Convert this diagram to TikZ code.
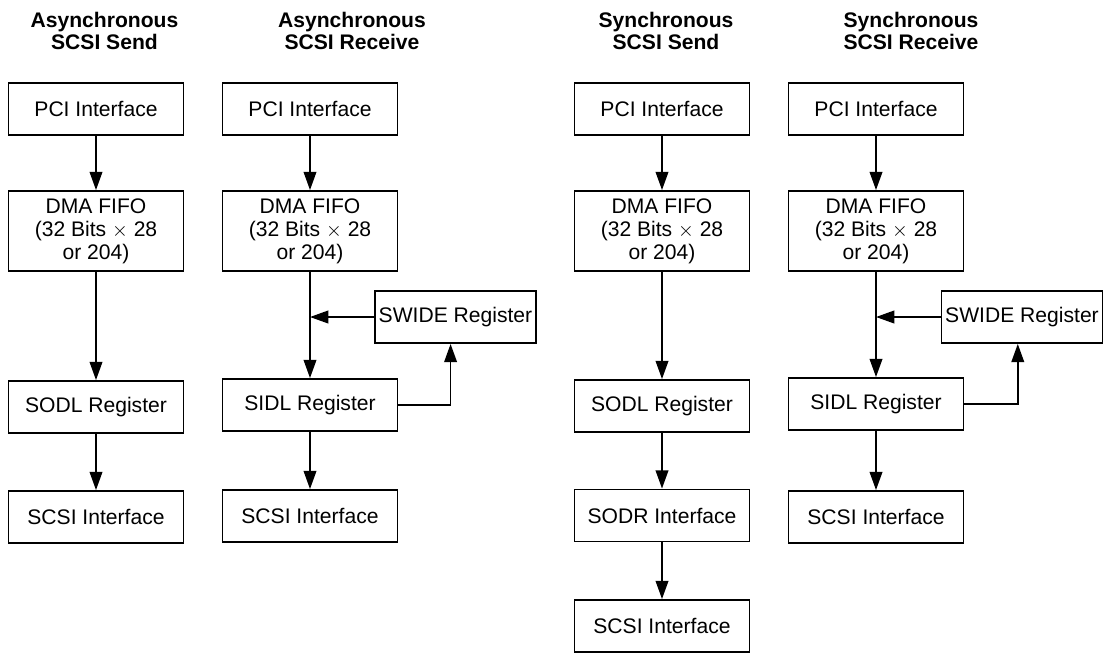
\documentclass[tikz,border=0pt]{standalone}
\usepackage{fontspec}
\setmainfont{Liberation Sans}
\usetikzlibrary{arrows.meta}

\begin{document}
\begin{tikzpicture}[x=0.025cm,y=-0.025cm,
    blk/.style={draw,line width=1.3pt,minimum width=4.375cm,minimum height=1.3cm,
        inner sep=1pt,align=center,font=\fontsize{15}{16.4}\selectfont},
    fifo/.style={blk,minimum height=2cm},
    wide/.style={blk,minimum width=4.025cm},
    ttl/.style={align=center,font=\fontsize{15}{16.2}\selectfont\bfseries},
    flow/.style={line width=1.3pt,-{Triangle[length=13pt,width=9pt]}}]
    \useasboundingbox (0,0) rectangle (1105,653);

    % titles
    \node[ttl] (t1) at (104.5,31) {Asynchronous\\SCSI Send};
    \node[ttl] (t2) at (352,31) {Asynchronous\\SCSI Receive};
    \node[ttl] (t3) at (666,31) {Synchronous\\SCSI Send};
    \node[ttl] (t4) at (911,31) {Synchronous\\SCSI Receive};

    % asynchronous send
    \node[blk] (pciA) at (96,109) {PCI Interface};
    \node[fifo] (dmaA) at (96,231) {DMA FIFO\\(32 Bits $\times$ 28\\or 204)};
    \node[blk] (sodlA) at (96,407) {SODL Register};
    \node[blk] (scsiA) at (96,517) {SCSI Interface};
    \draw[flow] (pciA) -- (dmaA);
    \draw[flow] (dmaA) -- (sodlA);
    \draw[flow] (sodlA) -- (scsiA);

    % asynchronous receive
    \node[blk] (pciB) at (310,109) {PCI Interface};
    \node[fifo] (dmaB) at (310,231) {DMA FIFO\\(32 Bits $\times$ 28\\or 204)};
    \node[wide] (swideB) at (455.5,317) {SWIDE Register};
    \node[blk] (sidlB) at (310,405) {SIDL Register};
    \node[blk] (scsiB) at (310,516) {SCSI Interface};
    \draw[flow] (pciB) -- (dmaB);
    \draw[flow] (dmaB) -- (sidlB);
    \draw[flow] (swideB.west) -- (swideB.west -| dmaB.south);
    \draw[flow] (sidlB.east) -| ([xshift=-3.5]swideB.south);
    \draw[flow] (sidlB) -- (scsiB);

    % synchronous send
    \node[blk] (pciC) at (662,109) {PCI Interface};
    \node[fifo] (dmaC) at (662,231) {DMA FIFO\\(32 Bits $\times$ 28\\or 204)};
    \node[blk] (sodlC) at (662,406) {SODL Register};
    \node[blk] (sodrC) at (662,515.5) {SODR Interface};
    \node[blk] (scsiC) at (662,626) {SCSI Interface};
    \draw[flow] (pciC) -- (dmaC);
    \draw[flow] (dmaC) -- (sodlC);
    \draw[flow] (sodlC) -- (sodrC);
    \draw[flow] (sodrC) -- (scsiC);

    % synchronous receive
    \node[blk] (pciD) at (876,109) {PCI Interface};
    \node[fifo] (dmaD) at (876,231) {DMA FIFO\\(32 Bits $\times$ 28\\or 204)};
    \node[wide] (swideD) at (1022,317) {SWIDE Register};
    \node[blk] (sidlD) at (876,404) {SIDL Register};
    \node[blk] (scsiD) at (876,517) {SCSI Interface};
    \draw[flow] (pciD) -- (dmaD);
    \draw[flow] (dmaD) -- (sidlD);
    \draw[flow] (swideD.west) -- (swideD.west -| dmaD.south);
    \draw[flow] (sidlD.east) -| ([xshift=-3]swideD.south);
    \draw[flow] (sidlD) -- (scsiD);
\end{tikzpicture}
\end{document}
